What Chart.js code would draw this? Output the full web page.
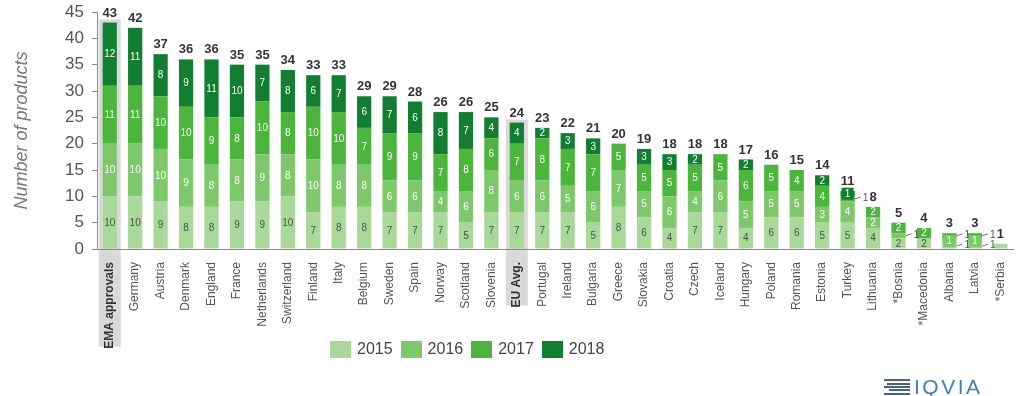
<!DOCTYPE html>
<html>
<head>
<meta charset="utf-8">
<script src="https://cdn.jsdelivr.net/npm/chart.js@4.4.1/dist/chart.umd.min.js"></script>
<style>
  body { margin: 0; background: #fff; font-family: Arial, "Liberation Sans", sans-serif; }
  #wrap { position: relative; width: 1024px; height: 396px; }
  #legend { position: absolute; left: 330px; top: 340px; display: flex; }
  #legend .item { display: flex; align-items: center; margin-right: 8px; }
  #legend .box { width: 21px; height: 17px; margin-right: 6px; }
  #legend span { font-size: 16px; color: #444; }
  #logo { position: absolute; left: 884px; top: 375px; display: flex; align-items: center; }
  #logo .stripes { width: 26px; margin-right: 4px; }
  #logo .stripes div { height: 2px; background: #4a6580; margin: 1.4px 0; }
  #logo span { font-size: 21px; color: #3f82b0; letter-spacing: 2.5px; }
</style>
</head>
<body>
<div id="wrap">
  <canvas id="myChart"></canvas>
  <div id="legend"></div>
  <div id="logo">
    <div class="stripes"><div></div><div style="margin-left:3px"></div><div></div><div style="margin-left:5px"></div><div></div></div>
    <span>IQVIA</span>
  </div>
</div>
<script>
const countries = ['EMA approvals', 'Germany', 'Austria', 'Denmark', 'England', 'France', 'Netherlands',
    'Switzerland', 'Finland', 'Italy', 'Belgium', 'Sweden', 'Spain', 'Norway', 'Scotland', 'Slovenia',
    'EU Avg.', 'Portugal', 'Ireland', 'Bulgaria', 'Greece', 'Slovakia', 'Croatia', 'Czech', 'Iceland',
    'Hungary', 'Poland', 'Romania', 'Estonia', 'Turkey', 'Lithuania', '*Bosnia', '*Macedonia',
    'Albania', 'Latvia', '*Serbia'];
const years = ['2015', '2016', '2017', '2018'];
const y2015 = [10, 10, 9, 8, 8, 9, 9, 10, 7, 8, 8, 7, 7, 7, 5, 7, 7, 7, 7, 5, 8, 6, 4, 7, 7, 4, 6, 6, 5, 5, 4, 2, 2, 1, 1, 1];
const y2016 = [10, 10, 10, 9, 8, 8, 9, 8, 10, 8, 8, 6, 6, 4, 6, 8, 6, 6, 5, 6, 7, 5, 6, 4, 6, 5, 5, 5, 3, 4, 2, 1, 0, 1, 1, 0];
const y2017 = [11, 11, 10, 10, 9, 8, 10, 8, 10, 10, 7, 9, 9, 7, 8, 6, 7, 8, 7, 7, 5, 5, 5, 5, 5, 6, 5, 4, 4, 1, 2, 2, 2, 1, 1, 0];
const y2018 = [12, 11, 8, 9, 11, 10, 7, 8, 6, 7, 6, 7, 6, 8, 7, 4, 4, 2, 3, 3, 0, 3, 3, 2, 0, 2, 0, 0, 2, 1, 0, 0, 0, 0, 0, 0];
const highlighted = ['EMA approvals', 'EU Avg.'];

const colors = ['#a8d998', '#7dc86b', '#4cb53b', '#127e31'];
const series = [y2015, y2016, y2017, y2018];
const totals = countries.map((c, i) => series.reduce((s, arr) => s + arr[i], 0));

const legendEl = document.getElementById('legend');
years.forEach((y, i) => {
    legendEl.innerHTML += '<div class="item"><div class="box" style="background:' + colors[i] + '"></div><span>' + y + '</span></div>';
});

const FONT = 'Arial, "Liberation Sans", sans-serif';

// grey band behind EMA approvals and EU Avg. (drawn before the axes so labels stay on top)
const bandPlugin = {
    id: 'band',
    beforeDraw(chart) {
        const ctx = chart.ctx;
        const xs = chart.scales.x, ys = chart.scales.y;
        ctx.save();
        ctx.font = 'bold 12px ' + FONT;
        highlighted.forEach(name => {
            const i = countries.indexOf(name);
            const x = xs.getPixelForValue(i);
            const top = ys.getPixelForValue(totals[i]) - 3;
            const bottom = ys.bottom + 5 + ctx.measureText(name).width + 6;
            ctx.fillStyle = '#d9d9d9';
            ctx.fillRect(x - 11, top, 22, bottom - top);
        });
        ctx.restore();
    }
};

// segment values and totals
const labelPlugin = {
    id: 'labels',
    afterDatasetsDraw(chart) {
        const ctx = chart.ctx;
        const ys = chart.scales.y;
        ctx.save();
        countries.forEach((c, i) => {
            let prevOutside = false;
            if (totals[i] > 1) {
                series.forEach((arr, d) => {
                    const v = arr[i];
                    if (!v) return;
                    const el = chart.getDatasetMeta(d).data[i];
                    const h = el.base - el.y;
                    const cy = (el.y + el.base) / 2;
                    ctx.font = '10px ' + FONT;
                    ctx.textAlign = 'center';
                    ctx.textBaseline = 'middle';
                    if (h >= 9) {
                        ctx.fillStyle = d === 0 ? '#4d4d4d' : '#ffffff';
                        ctx.fillText(v, el.x, cy + 0.5);
                        prevOutside = false;
                    } else if (prevOutside) {
                        ctx.fillStyle = colors[d];
                        ctx.fillRect(el.x - 6, cy - 6, 12, 12);
                        ctx.fillStyle = '#ffffff';
                        ctx.fillText(v, el.x, cy + 0.5);
                        prevOutside = false;
                    } else {
                        const rx = el.x + el.width / 2;
                        ctx.strokeStyle = '#777';
                        ctx.lineWidth = 1;
                        ctx.beginPath();
                        ctx.moveTo(rx, cy);
                        ctx.lineTo(rx + 6, cy - 2);
                        ctx.stroke();
                        ctx.fillStyle = '#555';
                        ctx.textAlign = 'left';
                        ctx.fillText(v, rx + 8, cy - 1);
                        prevOutside = true;
                    }
                });
            }
            const x = chart.scales.x.getPixelForValue(i);
            ctx.font = 'bold 13px ' + FONT;
            ctx.fillStyle = '#333';
            ctx.textAlign = 'center';
            ctx.textBaseline = 'bottom';
            ctx.fillText(totals[i], x, ys.getPixelForValue(totals[i]) - 3);
        });
        ctx.restore();
    }
};

const ctx = document.getElementById('myChart').getContext('2d');
const myChart = new Chart(ctx, {
    type: 'bar',
    data: {
        labels: countries,
        datasets: years.map((y, i) => ({
            label: y,
            data: series[i],
            backgroundColor: colors[i],
            borderWidth: 0,
            barPercentage: 0.56,
            categoryPercentage: 1
        }))
    },
    options: {
        responsive: true,
        maintainAspectRatio: false,
        animation: false,
        layout: { padding: { top: 12, right: 11, left: 0, bottom: 0 } },
        plugins: {
            legend: { display: false },
            tooltip: { enabled: false }
        },
        scales: {
            x: {
                stacked: true,
                grid: { display: false },
                border: { display: true, color: '#8c8c8c', width: 1 },
                ticks: {
                    minRotation: 90,
                    maxRotation: 90,
                    autoSkip: false,
                    padding: 5,
                    color: c => highlighted.includes(countries[c.index]) ? '#333' : '#555',
                    font: c => ({ family: FONT, size: 12, weight: highlighted.includes(countries[c.index]) ? 'bold' : 'normal' })
                },
                afterFit: s => { s.height = 147; }
            },
            y: {
                stacked: true,
                min: 0,
                max: 45,
                grid: { display: true, drawOnChartArea: false, drawTicks: true, tickLength: 5, color: '#8c8c8c' },
                border: { display: true, color: '#8c8c8c', width: 1 },
                ticks: { stepSize: 5, padding: 8, color: '#555', font: { family: FONT, size: 17 } },
                title: {
                    display: true,
                    text: 'Number of products',
                    color: '#777',
                    font: { family: FONT, size: 18, style: 'italic' },
                    padding: { top: 11, bottom: 0 }
                },
                afterFit: s => { s.width = 97; s.paddingTop = 0; s.paddingBottom = 0; }
            }
        }
    },
    plugins: [bandPlugin, labelPlugin]
});
</script>
</body>
</html>
